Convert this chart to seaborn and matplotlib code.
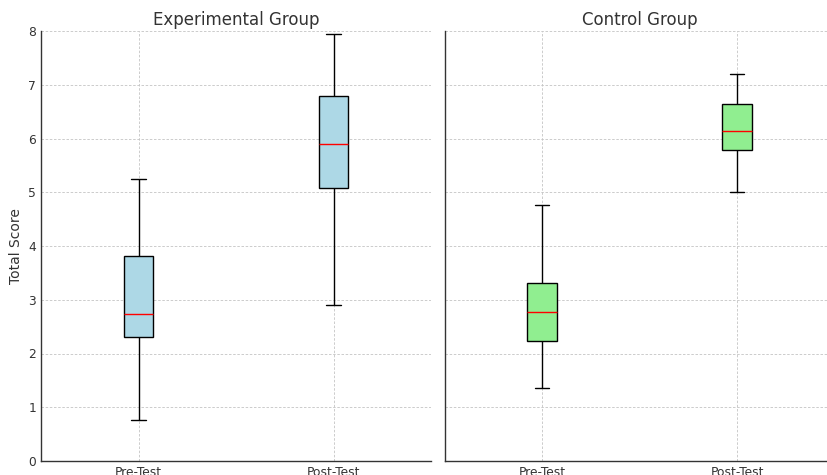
import numpy as np
import pandas as pd
import matplotlib.pyplot as plt
import seaborn as sns

# five-number summaries: [low whisker, Q1, median, Q3, high whisker]
phases = ["Pre-Test", "Post-Test"]
exp_pre = [0.76, 2.31, 2.74, 3.81, 5.24]
exp_post = [2.90, 5.08, 5.89, 6.79, 7.94]
ctl_pre = [1.36, 2.23, 2.77, 3.31, 4.77]
ctl_post = [5.00, 5.78, 6.14, 6.64, 7.20]

groups = [
    ("Experimental Group", exp_pre, exp_post, "lightblue"),
    ("Control Group", ctl_pre, ctl_post, "lightgreen"),
]

sns.set_style("white")
plt.rcParams.update({
    "font.family": ["DejaVu Sans"],
    "text.color": "#333333",
    "axes.labelcolor": "#333333",
    "xtick.color": "#333333",
    "ytick.color": "#333333",
    "axes.edgecolor": "#333333",
    "xtick.direction": "in",
    "ytick.direction": "in",
})

fig = plt.figure(figsize=(8.27, 4.75), dpi=100)
W, H = 827, 475
axes = [
    fig.add_axes([41 / W, 14 / H, 390 / W, 430 / H]),
    fig.add_axes([444.5 / W, 14 / H, 390 / W, 430 / H]),
]

for ax, (title, pre, post, color) in zip(axes, groups):
    df = pd.DataFrame({
        "phase": [phases[0]] * len(pre) + [phases[1]] * len(post),
        "score": pre + post,
    })
    sns.boxplot(data=df, x="phase", y="score", order=phases, ax=ax,
                width=0.15, color=color, saturation=1, linecolor="black",
                linewidth=1, whis=(0, 100),
                medianprops=dict(color="red", linewidth=1))
    ax.set_title(title, fontsize=12, pad=4.5)
    ax.set_xlabel("")
    ax.set_ylim(0, 8)
    ax.set_xlim(-0.5, 1.5)
    ax.set_yticks(range(0, 9))
    ax.grid(True, linestyle=(0, (3, 2)), color="#c4c4c4", linewidth=0.6)
    ax.set_axisbelow(True)
    ax.tick_params(labelsize=8.8, length=4, width=0.8)
    for side in ["top", "right"]:
        ax.spines[side].set_visible(False)
    for side in ["left", "bottom"]:
        ax.spines[side].set_linewidth(1.0)

axes[0].set_ylabel("Total Score", fontsize=10)
axes[1].set_ylabel("")
axes[1].tick_params(labelleft=False)

fig.savefig("out.png", dpi=100)
